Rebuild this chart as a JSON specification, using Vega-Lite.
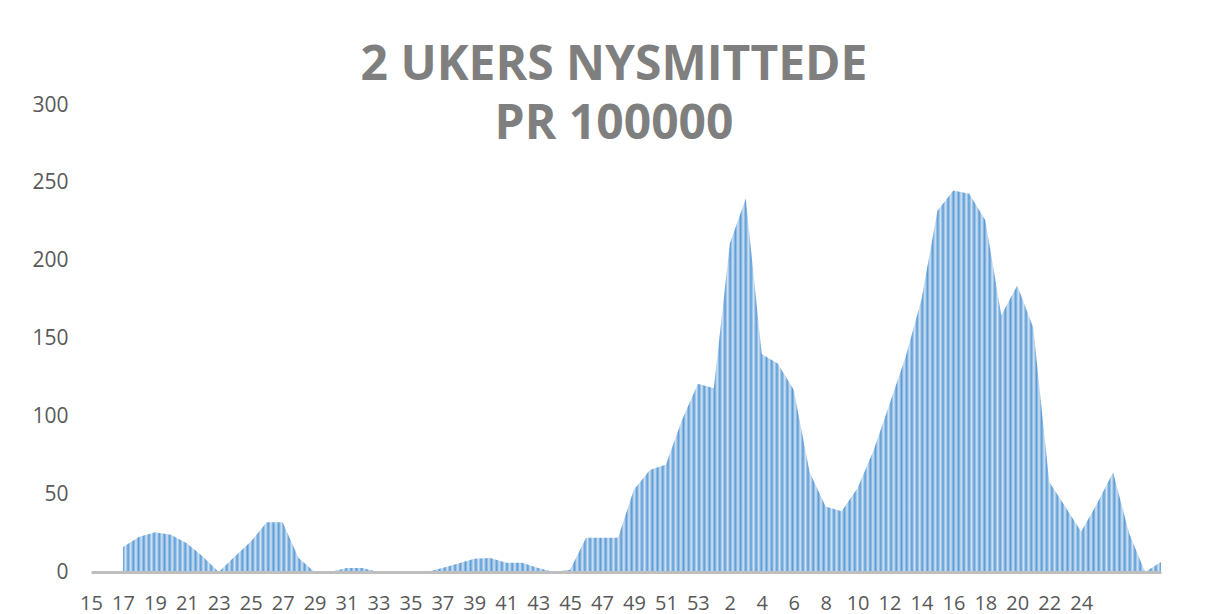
{
  "$schema": "https://vega.github.io/schema/vega-lite/v6.json",
  "width": 1070,
  "height": 467,
  "autosize": {"type": "none"},
  "padding": {"left": 91, "top": 105, "right": 48, "bottom": 42},
  "background": "white",
  "config": {"view": {"stroke": null}, "font": "Open Sans"},
  "title": {
    "text": ["2 UKERS NYSMITTEDE", "PR 100000"],
    "font": "Open Sans",
    "fontSize": 48,
    "fontWeight": "bold",
    "color": "#7f7f7f",
    "lineHeight": 59,
    "anchor": "middle",
    "frame": "group",
    "dx": -12,
    "dy": 106,
    "baseline": "alphabetic",
    "offset": 13
  },
  "data": {
    "values": [
      {"periode": "2020-15", "verdi": null},
      {"periode": "2020-16", "verdi": null},
      {"periode": "2020-17", "verdi": 16},
      {"periode": "2020-18", "verdi": 22.5},
      {"periode": "2020-19", "verdi": 25.5},
      {"periode": "2020-20", "verdi": 24},
      {"periode": "2020-21", "verdi": 18.5},
      {"periode": "2020-22", "verdi": 10},
      {"periode": "2020-23", "verdi": 0},
      {"periode": "2020-24", "verdi": 10},
      {"periode": "2020-25", "verdi": 19.5},
      {"periode": "2020-26", "verdi": 32},
      {"periode": "2020-27", "verdi": 32},
      {"periode": "2020-28", "verdi": 9},
      {"periode": "2020-29", "verdi": 0},
      {"periode": "2020-30", "verdi": 0},
      {"periode": "2020-31", "verdi": 2.5},
      {"periode": "2020-32", "verdi": 2.5},
      {"periode": "2020-33", "verdi": 0},
      {"periode": "2020-34", "verdi": 0},
      {"periode": "2020-35", "verdi": 0},
      {"periode": "2020-36", "verdi": 0},
      {"periode": "2020-37", "verdi": 2.5},
      {"periode": "2020-38", "verdi": 5.5},
      {"periode": "2020-39", "verdi": 8.5},
      {"periode": "2020-40", "verdi": 9},
      {"periode": "2020-41", "verdi": 6},
      {"periode": "2020-42", "verdi": 6},
      {"periode": "2020-43", "verdi": 2.5},
      {"periode": "2020-44", "verdi": 0},
      {"periode": "2020-45", "verdi": 1.5},
      {"periode": "2020-46", "verdi": 22},
      {"periode": "2020-47", "verdi": 22},
      {"periode": "2020-48", "verdi": 22},
      {"periode": "2020-49", "verdi": 53},
      {"periode": "2020-50", "verdi": 65.5},
      {"periode": "2020-51", "verdi": 69},
      {"periode": "2020-52", "verdi": 97.5},
      {"periode": "2020-53", "verdi": 121},
      {"periode": "2021-01", "verdi": 118},
      {"periode": "2021-02", "verdi": 211},
      {"periode": "2021-03", "verdi": 240},
      {"periode": "2021-04", "verdi": 140},
      {"periode": "2021-05", "verdi": 134},
      {"periode": "2021-06", "verdi": 117},
      {"periode": "2021-07", "verdi": 64},
      {"periode": "2021-08", "verdi": 42},
      {"periode": "2021-09", "verdi": 39},
      {"periode": "2021-10", "verdi": 54},
      {"periode": "2021-11", "verdi": 78},
      {"periode": "2021-12", "verdi": 108},
      {"periode": "2021-13", "verdi": 138},
      {"periode": "2021-14", "verdi": 175},
      {"periode": "2021-15", "verdi": 232},
      {"periode": "2021-16", "verdi": 245},
      {"periode": "2021-17", "verdi": 243},
      {"periode": "2021-18", "verdi": 226},
      {"periode": "2021-19", "verdi": 165},
      {"periode": "2021-20", "verdi": 184},
      {"periode": "2021-21", "verdi": 157},
      {"periode": "2021-22", "verdi": 58},
      {"periode": "2021-23", "verdi": 42},
      {"periode": "2021-24", "verdi": 26},
      {"periode": "2021-25", "verdi": 44},
      {"periode": "2021-26", "verdi": 64},
      {"periode": "2021-27", "verdi": 25},
      {"periode": "2021-28", "verdi": 0},
      {"periode": "2021-29", "verdi": 6.5}
    ]
  },
  "mark": {
    "type": "area",
    "interpolate": "linear",
    "invalid": "break-paths-show-domains",
    "fill": {
      "gradient": "linear",
      "x1": 0, "y1": 0, "x2": 1, "y2": 0,
      "stops": [
{"offset":0,"color":"#5b9bd5"},{"offset":0.0025,"color":"#d2e3f4"},{"offset":0.005,"color":"#5b9bd5"},{"offset":0.0075,"color":"#d2e3f4"},
{"offset":0.01,"color":"#5b9bd5"},{"offset":0.0125,"color":"#d2e3f4"},{"offset":0.015,"color":"#5b9bd5"},{"offset":0.0175,"color":"#d2e3f4"},
{"offset":0.02,"color":"#5b9bd5"},{"offset":0.0225,"color":"#d2e3f4"},{"offset":0.025,"color":"#5b9bd5"},{"offset":0.0275,"color":"#d2e3f4"},
{"offset":0.03,"color":"#5b9bd5"},{"offset":0.0325,"color":"#d2e3f4"},{"offset":0.035,"color":"#5b9bd5"},{"offset":0.0375,"color":"#d2e3f4"},
{"offset":0.04,"color":"#5b9bd5"},{"offset":0.0425,"color":"#d2e3f4"},{"offset":0.045,"color":"#5b9bd5"},{"offset":0.0475,"color":"#d2e3f4"},
{"offset":0.05,"color":"#5b9bd5"},{"offset":0.0525,"color":"#d2e3f4"},{"offset":0.055,"color":"#5b9bd5"},{"offset":0.0575,"color":"#d2e3f4"},
{"offset":0.06,"color":"#5b9bd5"},{"offset":0.0625,"color":"#d2e3f4"},{"offset":0.065,"color":"#5b9bd5"},{"offset":0.0675,"color":"#d2e3f4"},
{"offset":0.07,"color":"#5b9bd5"},{"offset":0.0725,"color":"#d2e3f4"},{"offset":0.075,"color":"#5b9bd5"},{"offset":0.0775,"color":"#d2e3f4"},
{"offset":0.08,"color":"#5b9bd5"},{"offset":0.0825,"color":"#d2e3f4"},{"offset":0.085,"color":"#5b9bd5"},{"offset":0.0875,"color":"#d2e3f4"},
{"offset":0.09,"color":"#5b9bd5"},{"offset":0.0925,"color":"#d2e3f4"},{"offset":0.095,"color":"#5b9bd5"},{"offset":0.0975,"color":"#d2e3f4"},
{"offset":0.1,"color":"#5b9bd5"},{"offset":0.1025,"color":"#d2e3f4"},{"offset":0.105,"color":"#5b9bd5"},{"offset":0.1075,"color":"#d2e3f4"},
{"offset":0.11,"color":"#5b9bd5"},{"offset":0.1125,"color":"#d2e3f4"},{"offset":0.115,"color":"#5b9bd5"},{"offset":0.1175,"color":"#d2e3f4"},
{"offset":0.12,"color":"#5b9bd5"},{"offset":0.1225,"color":"#d2e3f4"},{"offset":0.125,"color":"#5b9bd5"},{"offset":0.1275,"color":"#d2e3f4"},
{"offset":0.13,"color":"#5b9bd5"},{"offset":0.1325,"color":"#d2e3f4"},{"offset":0.135,"color":"#5b9bd5"},{"offset":0.1375,"color":"#d2e3f4"},
{"offset":0.14,"color":"#5b9bd5"},{"offset":0.1425,"color":"#d2e3f4"},{"offset":0.145,"color":"#5b9bd5"},{"offset":0.1475,"color":"#d2e3f4"},
{"offset":0.15,"color":"#5b9bd5"},{"offset":0.1525,"color":"#d2e3f4"},{"offset":0.155,"color":"#5b9bd5"},{"offset":0.1575,"color":"#d2e3f4"},
{"offset":0.16,"color":"#5b9bd5"},{"offset":0.1625,"color":"#d2e3f4"},{"offset":0.165,"color":"#5b9bd5"},{"offset":0.1675,"color":"#d2e3f4"},
{"offset":0.17,"color":"#5b9bd5"},{"offset":0.1725,"color":"#d2e3f4"},{"offset":0.175,"color":"#5b9bd5"},{"offset":0.1775,"color":"#d2e3f4"},
{"offset":0.18,"color":"#5b9bd5"},{"offset":0.1825,"color":"#d2e3f4"},{"offset":0.185,"color":"#5b9bd5"},{"offset":0.1875,"color":"#d2e3f4"},
{"offset":0.19,"color":"#5b9bd5"},{"offset":0.1925,"color":"#d2e3f4"},{"offset":0.195,"color":"#5b9bd5"},{"offset":0.1975,"color":"#d2e3f4"},
{"offset":0.2,"color":"#5b9bd5"},{"offset":0.2025,"color":"#d2e3f4"},{"offset":0.205,"color":"#5b9bd5"},{"offset":0.2075,"color":"#d2e3f4"},
{"offset":0.21,"color":"#5b9bd5"},{"offset":0.2125,"color":"#d2e3f4"},{"offset":0.215,"color":"#5b9bd5"},{"offset":0.2175,"color":"#d2e3f4"},
{"offset":0.22,"color":"#5b9bd5"},{"offset":0.2225,"color":"#d2e3f4"},{"offset":0.225,"color":"#5b9bd5"},{"offset":0.2275,"color":"#d2e3f4"},
{"offset":0.23,"color":"#5b9bd5"},{"offset":0.2325,"color":"#d2e3f4"},{"offset":0.235,"color":"#5b9bd5"},{"offset":0.2375,"color":"#d2e3f4"},
{"offset":0.24,"color":"#5b9bd5"},{"offset":0.2425,"color":"#d2e3f4"},{"offset":0.245,"color":"#5b9bd5"},{"offset":0.2475,"color":"#d2e3f4"},
{"offset":0.25,"color":"#5b9bd5"},{"offset":0.2525,"color":"#d2e3f4"},{"offset":0.255,"color":"#5b9bd5"},{"offset":0.2575,"color":"#d2e3f4"},
{"offset":0.26,"color":"#5b9bd5"},{"offset":0.2625,"color":"#d2e3f4"},{"offset":0.265,"color":"#5b9bd5"},{"offset":0.2675,"color":"#d2e3f4"},
{"offset":0.27,"color":"#5b9bd5"},{"offset":0.2725,"color":"#d2e3f4"},{"offset":0.275,"color":"#5b9bd5"},{"offset":0.2775,"color":"#d2e3f4"},
{"offset":0.28,"color":"#5b9bd5"},{"offset":0.2825,"color":"#d2e3f4"},{"offset":0.285,"color":"#5b9bd5"},{"offset":0.2875,"color":"#d2e3f4"},
{"offset":0.29,"color":"#5b9bd5"},{"offset":0.2925,"color":"#d2e3f4"},{"offset":0.295,"color":"#5b9bd5"},{"offset":0.2975,"color":"#d2e3f4"},
{"offset":0.3,"color":"#5b9bd5"},{"offset":0.3025,"color":"#d2e3f4"},{"offset":0.305,"color":"#5b9bd5"},{"offset":0.3075,"color":"#d2e3f4"},
{"offset":0.31,"color":"#5b9bd5"},{"offset":0.3125,"color":"#d2e3f4"},{"offset":0.315,"color":"#5b9bd5"},{"offset":0.3175,"color":"#d2e3f4"},
{"offset":0.32,"color":"#5b9bd5"},{"offset":0.3225,"color":"#d2e3f4"},{"offset":0.325,"color":"#5b9bd5"},{"offset":0.3275,"color":"#d2e3f4"},
{"offset":0.33,"color":"#5b9bd5"},{"offset":0.3325,"color":"#d2e3f4"},{"offset":0.335,"color":"#5b9bd5"},{"offset":0.3375,"color":"#d2e3f4"},
{"offset":0.34,"color":"#5b9bd5"},{"offset":0.3425,"color":"#d2e3f4"},{"offset":0.345,"color":"#5b9bd5"},{"offset":0.3475,"color":"#d2e3f4"},
{"offset":0.35,"color":"#5b9bd5"},{"offset":0.3525,"color":"#d2e3f4"},{"offset":0.355,"color":"#5b9bd5"},{"offset":0.3575,"color":"#d2e3f4"},
{"offset":0.36,"color":"#5b9bd5"},{"offset":0.3625,"color":"#d2e3f4"},{"offset":0.365,"color":"#5b9bd5"},{"offset":0.3675,"color":"#d2e3f4"},
{"offset":0.37,"color":"#5b9bd5"},{"offset":0.3725,"color":"#d2e3f4"},{"offset":0.375,"color":"#5b9bd5"},{"offset":0.3775,"color":"#d2e3f4"},
{"offset":0.38,"color":"#5b9bd5"},{"offset":0.3825,"color":"#d2e3f4"},{"offset":0.385,"color":"#5b9bd5"},{"offset":0.3875,"color":"#d2e3f4"},
{"offset":0.39,"color":"#5b9bd5"},{"offset":0.3925,"color":"#d2e3f4"},{"offset":0.395,"color":"#5b9bd5"},{"offset":0.3975,"color":"#d2e3f4"},
{"offset":0.4,"color":"#5b9bd5"},{"offset":0.4025,"color":"#d2e3f4"},{"offset":0.405,"color":"#5b9bd5"},{"offset":0.4075,"color":"#d2e3f4"},
{"offset":0.41,"color":"#5b9bd5"},{"offset":0.4125,"color":"#d2e3f4"},{"offset":0.415,"color":"#5b9bd5"},{"offset":0.4175,"color":"#d2e3f4"},
{"offset":0.42,"color":"#5b9bd5"},{"offset":0.4225,"color":"#d2e3f4"},{"offset":0.425,"color":"#5b9bd5"},{"offset":0.4275,"color":"#d2e3f4"},
{"offset":0.43,"color":"#5b9bd5"},{"offset":0.4325,"color":"#d2e3f4"},{"offset":0.435,"color":"#5b9bd5"},{"offset":0.4375,"color":"#d2e3f4"},
{"offset":0.44,"color":"#5b9bd5"},{"offset":0.4425,"color":"#d2e3f4"},{"offset":0.445,"color":"#5b9bd5"},{"offset":0.4475,"color":"#d2e3f4"},
{"offset":0.45,"color":"#5b9bd5"},{"offset":0.4525,"color":"#d2e3f4"},{"offset":0.455,"color":"#5b9bd5"},{"offset":0.4575,"color":"#d2e3f4"},
{"offset":0.46,"color":"#5b9bd5"},{"offset":0.4625,"color":"#d2e3f4"},{"offset":0.465,"color":"#5b9bd5"},{"offset":0.4675,"color":"#d2e3f4"},
{"offset":0.47,"color":"#5b9bd5"},{"offset":0.4725,"color":"#d2e3f4"},{"offset":0.475,"color":"#5b9bd5"},{"offset":0.4775,"color":"#d2e3f4"},
{"offset":0.48,"color":"#5b9bd5"},{"offset":0.4825,"color":"#d2e3f4"},{"offset":0.485,"color":"#5b9bd5"},{"offset":0.4875,"color":"#d2e3f4"},
{"offset":0.49,"color":"#5b9bd5"},{"offset":0.4925,"color":"#d2e3f4"},{"offset":0.495,"color":"#5b9bd5"},{"offset":0.4975,"color":"#d2e3f4"},
{"offset":0.5,"color":"#5b9bd5"},{"offset":0.5025,"color":"#d2e3f4"},{"offset":0.505,"color":"#5b9bd5"},{"offset":0.5075,"color":"#d2e3f4"},
{"offset":0.51,"color":"#5b9bd5"},{"offset":0.5125,"color":"#d2e3f4"},{"offset":0.515,"color":"#5b9bd5"},{"offset":0.5175,"color":"#d2e3f4"},
{"offset":0.52,"color":"#5b9bd5"},{"offset":0.5225,"color":"#d2e3f4"},{"offset":0.525,"color":"#5b9bd5"},{"offset":0.5275,"color":"#d2e3f4"},
{"offset":0.53,"color":"#5b9bd5"},{"offset":0.5325,"color":"#d2e3f4"},{"offset":0.535,"color":"#5b9bd5"},{"offset":0.5375,"color":"#d2e3f4"},
{"offset":0.54,"color":"#5b9bd5"},{"offset":0.5425,"color":"#d2e3f4"},{"offset":0.545,"color":"#5b9bd5"},{"offset":0.5475,"color":"#d2e3f4"},
{"offset":0.55,"color":"#5b9bd5"},{"offset":0.5525,"color":"#d2e3f4"},{"offset":0.555,"color":"#5b9bd5"},{"offset":0.5575,"color":"#d2e3f4"},
{"offset":0.56,"color":"#5b9bd5"},{"offset":0.5625,"color":"#d2e3f4"},{"offset":0.565,"color":"#5b9bd5"},{"offset":0.5675,"color":"#d2e3f4"},
{"offset":0.57,"color":"#5b9bd5"},{"offset":0.5725,"color":"#d2e3f4"},{"offset":0.575,"color":"#5b9bd5"},{"offset":0.5775,"color":"#d2e3f4"},
{"offset":0.58,"color":"#5b9bd5"},{"offset":0.5825,"color":"#d2e3f4"},{"offset":0.585,"color":"#5b9bd5"},{"offset":0.5875,"color":"#d2e3f4"},
{"offset":0.59,"color":"#5b9bd5"},{"offset":0.5925,"color":"#d2e3f4"},{"offset":0.595,"color":"#5b9bd5"},{"offset":0.5975,"color":"#d2e3f4"},
{"offset":0.6,"color":"#5b9bd5"},{"offset":0.6025,"color":"#d2e3f4"},{"offset":0.605,"color":"#5b9bd5"},{"offset":0.6075,"color":"#d2e3f4"},
{"offset":0.61,"color":"#5b9bd5"},{"offset":0.6125,"color":"#d2e3f4"},{"offset":0.615,"color":"#5b9bd5"},{"offset":0.6175,"color":"#d2e3f4"},
{"offset":0.62,"color":"#5b9bd5"},{"offset":0.6225,"color":"#d2e3f4"},{"offset":0.625,"color":"#5b9bd5"},{"offset":0.6275,"color":"#d2e3f4"},
{"offset":0.63,"color":"#5b9bd5"},{"offset":0.6325,"color":"#d2e3f4"},{"offset":0.635,"color":"#5b9bd5"},{"offset":0.6375,"color":"#d2e3f4"},
{"offset":0.64,"color":"#5b9bd5"},{"offset":0.6425,"color":"#d2e3f4"},{"offset":0.645,"color":"#5b9bd5"},{"offset":0.6475,"color":"#d2e3f4"},
{"offset":0.65,"color":"#5b9bd5"},{"offset":0.6525,"color":"#d2e3f4"},{"offset":0.655,"color":"#5b9bd5"},{"offset":0.6575,"color":"#d2e3f4"},
{"offset":0.66,"color":"#5b9bd5"},{"offset":0.6625,"color":"#d2e3f4"},{"offset":0.665,"color":"#5b9bd5"},{"offset":0.6675,"color":"#d2e3f4"},
{"offset":0.67,"color":"#5b9bd5"},{"offset":0.6725,"color":"#d2e3f4"},{"offset":0.675,"color":"#5b9bd5"},{"offset":0.6775,"color":"#d2e3f4"},
{"offset":0.68,"color":"#5b9bd5"},{"offset":0.6825,"color":"#d2e3f4"},{"offset":0.685,"color":"#5b9bd5"},{"offset":0.6875,"color":"#d2e3f4"},
{"offset":0.69,"color":"#5b9bd5"},{"offset":0.6925,"color":"#d2e3f4"},{"offset":0.695,"color":"#5b9bd5"},{"offset":0.6975,"color":"#d2e3f4"},
{"offset":0.7,"color":"#5b9bd5"},{"offset":0.7025,"color":"#d2e3f4"},{"offset":0.705,"color":"#5b9bd5"},{"offset":0.7075,"color":"#d2e3f4"},
{"offset":0.71,"color":"#5b9bd5"},{"offset":0.7125,"color":"#d2e3f4"},{"offset":0.715,"color":"#5b9bd5"},{"offset":0.7175,"color":"#d2e3f4"},
{"offset":0.72,"color":"#5b9bd5"},{"offset":0.7225,"color":"#d2e3f4"},{"offset":0.725,"color":"#5b9bd5"},{"offset":0.7275,"color":"#d2e3f4"},
{"offset":0.73,"color":"#5b9bd5"},{"offset":0.7325,"color":"#d2e3f4"},{"offset":0.735,"color":"#5b9bd5"},{"offset":0.7375,"color":"#d2e3f4"},
{"offset":0.74,"color":"#5b9bd5"},{"offset":0.7425,"color":"#d2e3f4"},{"offset":0.745,"color":"#5b9bd5"},{"offset":0.7475,"color":"#d2e3f4"},
{"offset":0.75,"color":"#5b9bd5"},{"offset":0.7525,"color":"#d2e3f4"},{"offset":0.755,"color":"#5b9bd5"},{"offset":0.7575,"color":"#d2e3f4"},
{"offset":0.76,"color":"#5b9bd5"},{"offset":0.7625,"color":"#d2e3f4"},{"offset":0.765,"color":"#5b9bd5"},{"offset":0.7675,"color":"#d2e3f4"},
{"offset":0.77,"color":"#5b9bd5"},{"offset":0.7725,"color":"#d2e3f4"},{"offset":0.775,"color":"#5b9bd5"},{"offset":0.7775,"color":"#d2e3f4"},
{"offset":0.78,"color":"#5b9bd5"},{"offset":0.7825,"color":"#d2e3f4"},{"offset":0.785,"color":"#5b9bd5"},{"offset":0.7875,"color":"#d2e3f4"},
{"offset":0.79,"color":"#5b9bd5"},{"offset":0.7925,"color":"#d2e3f4"},{"offset":0.795,"color":"#5b9bd5"},{"offset":0.7975,"color":"#d2e3f4"},
{"offset":0.8,"color":"#5b9bd5"},{"offset":0.8025,"color":"#d2e3f4"},{"offset":0.805,"color":"#5b9bd5"},{"offset":0.8075,"color":"#d2e3f4"},
{"offset":0.81,"color":"#5b9bd5"},{"offset":0.8125,"color":"#d2e3f4"},{"offset":0.815,"color":"#5b9bd5"},{"offset":0.8175,"color":"#d2e3f4"},
{"offset":0.82,"color":"#5b9bd5"},{"offset":0.8225,"color":"#d2e3f4"},{"offset":0.825,"color":"#5b9bd5"},{"offset":0.8275,"color":"#d2e3f4"},
{"offset":0.83,"color":"#5b9bd5"},{"offset":0.8325,"color":"#d2e3f4"},{"offset":0.835,"color":"#5b9bd5"},{"offset":0.8375,"color":"#d2e3f4"},
{"offset":0.84,"color":"#5b9bd5"},{"offset":0.8425,"color":"#d2e3f4"},{"offset":0.845,"color":"#5b9bd5"},{"offset":0.8475,"color":"#d2e3f4"},
{"offset":0.85,"color":"#5b9bd5"},{"offset":0.8525,"color":"#d2e3f4"},{"offset":0.855,"color":"#5b9bd5"},{"offset":0.8575,"color":"#d2e3f4"},
{"offset":0.86,"color":"#5b9bd5"},{"offset":0.8625,"color":"#d2e3f4"},{"offset":0.865,"color":"#5b9bd5"},{"offset":0.8675,"color":"#d2e3f4"},
{"offset":0.87,"color":"#5b9bd5"},{"offset":0.8725,"color":"#d2e3f4"},{"offset":0.875,"color":"#5b9bd5"},{"offset":0.8775,"color":"#d2e3f4"},
{"offset":0.88,"color":"#5b9bd5"},{"offset":0.8825,"color":"#d2e3f4"},{"offset":0.885,"color":"#5b9bd5"},{"offset":0.8875,"color":"#d2e3f4"},
{"offset":0.89,"color":"#5b9bd5"},{"offset":0.8925,"color":"#d2e3f4"},{"offset":0.895,"color":"#5b9bd5"},{"offset":0.8975,"color":"#d2e3f4"},
{"offset":0.9,"color":"#5b9bd5"},{"offset":0.9025,"color":"#d2e3f4"},{"offset":0.905,"color":"#5b9bd5"},{"offset":0.9075,"color":"#d2e3f4"},
{"offset":0.91,"color":"#5b9bd5"},{"offset":0.9125,"color":"#d2e3f4"},{"offset":0.915,"color":"#5b9bd5"},{"offset":0.9175,"color":"#d2e3f4"},
{"offset":0.92,"color":"#5b9bd5"},{"offset":0.9225,"color":"#d2e3f4"},{"offset":0.925,"color":"#5b9bd5"},{"offset":0.9275,"color":"#d2e3f4"},
{"offset":0.93,"color":"#5b9bd5"},{"offset":0.9325,"color":"#d2e3f4"},{"offset":0.935,"color":"#5b9bd5"},{"offset":0.9375,"color":"#d2e3f4"},
{"offset":0.94,"color":"#5b9bd5"},{"offset":0.9425,"color":"#d2e3f4"},{"offset":0.945,"color":"#5b9bd5"},{"offset":0.9475,"color":"#d2e3f4"},
{"offset":0.95,"color":"#5b9bd5"},{"offset":0.9525,"color":"#d2e3f4"},{"offset":0.955,"color":"#5b9bd5"},{"offset":0.9575,"color":"#d2e3f4"},
{"offset":0.96,"color":"#5b9bd5"},{"offset":0.9625,"color":"#d2e3f4"},{"offset":0.965,"color":"#5b9bd5"},{"offset":0.9675,"color":"#d2e3f4"},
{"offset":0.97,"color":"#5b9bd5"},{"offset":0.9725,"color":"#d2e3f4"},{"offset":0.975,"color":"#5b9bd5"},{"offset":0.9775,"color":"#d2e3f4"},
{"offset":0.98,"color":"#5b9bd5"},{"offset":0.9825,"color":"#d2e3f4"},{"offset":0.985,"color":"#5b9bd5"},{"offset":0.9875,"color":"#d2e3f4"},
{"offset":0.99,"color":"#5b9bd5"},{"offset":0.9925,"color":"#d2e3f4"},{"offset":0.995,"color":"#5b9bd5"},{"offset":0.9975,"color":"#d2e3f4"},
{"offset":1,"color":"#5b9bd5"}
      ]
    }
  },
  "encoding": {
    "x": {
      "field": "periode",
      "type": "ordinal",
      "sort": null,
      "scale": {"type": "point", "padding": 0},
      "axis": {
        "title": null,
        "values": ["2020-15","2020-17","2020-19","2020-21","2020-23","2020-25","2020-27","2020-29","2020-31","2020-33","2020-35","2020-37","2020-39","2020-41","2020-43","2020-45","2020-47","2020-49","2020-51","2020-53","2021-02","2021-04","2021-06","2021-08","2021-10","2021-12","2021-14","2021-16","2021-18","2021-20","2021-22","2021-24"],
        "labelExpr": "'' + toNumber(split(datum.value, '-')[1])",
        "labelAngle": 0,
        "labelFont": "Open Sans",
        "labelFontSize": 20,
        "labelColor": "#595959",
        "labelOverlap": false,
        "ticks": false,
        "tickSize": 0,
        "labelPadding": 21,
        "domainColor": "#bfbfbf",
        "domainWidth": 3,
        "grid": false,
        "zindex": 1
      }
    },
    "y": {
      "field": "verdi",
      "type": "quantitative",
      "scale": {"domain": [0, 300]},
      "axis": {
        "title": null,
        "values": [0, 50, 100, 150, 200, 250, 300],
        "grid": false,
        "domain": false,
        "ticks": false,
        "tickSize": 0,
        "labelPadding": 23,
        "labelFont": "Open Sans",
        "labelFontSize": 21,
        "labelColor": "#595959"
      }
    }
  }
}
